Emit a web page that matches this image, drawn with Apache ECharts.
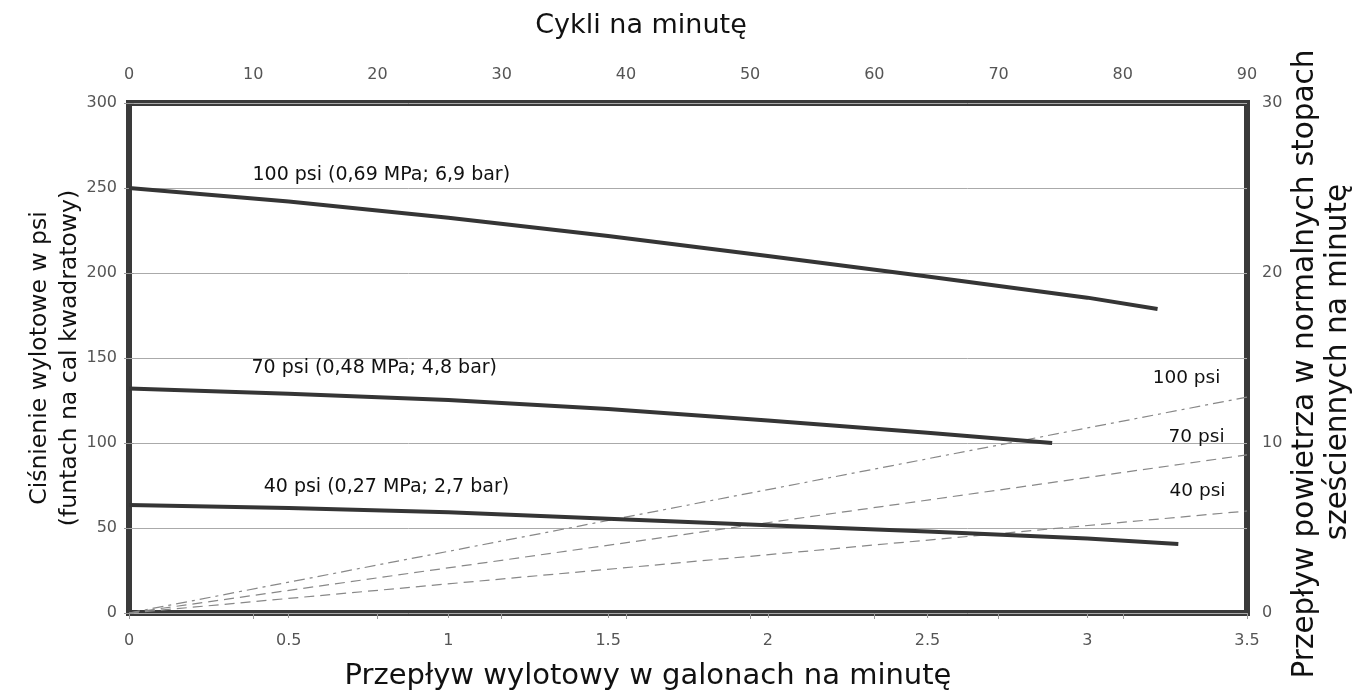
<!DOCTYPE html>
<html>
<head>
<meta charset="utf-8">
<script src="https://cdn.jsdelivr.net/npm/echarts@6/dist/echarts.min.js"></script>
<style>
html,body{margin:0;padding:0;background:#fff;}
#chart{width:1371px;height:698px;}
</style>
</head>
<body>
<div id="chart"></div>
<script>
// ---- data ----
const flow100 = [0, 0.5, 1, 1.5, 2, 2.5, 3, 3.22];
const pressure100 = [250, 242, 232.5, 221.8, 210, 198, 185.5, 178.8];
const flow70 = [0, 0.5, 1, 1.5, 2, 2.5, 2.89];
const pressure70 = [132, 129, 125.3, 120, 113.3, 106, 100];
const flow40 = [0, 0.5, 1, 1.5, 2, 2.5, 3, 3.285];
const pressure40 = [63.5, 61.7, 59.2, 55.4, 51.6, 47.9, 43.8, 40.6];
const airFlowX = [0, 3.5];
const air100 = [0, 12.7];
const air70 = [0, 9.3];
const air40 = [0, 6.0];
const curveNames = ['100 psi (0,69 MPa; 6,9 bar)', '70 psi (0,48 MPa; 4,8 bar)', '40 psi (0,27 MPa; 2,7 bar)'];
const airNames = ['100 psi', '70 psi', '40 psi'];
// label anchor points (data coordinates)
const curveLabelAt = [[0.385, 257.6], [0.382, 144], [0.42, 74.1]];
const airLabelAt = [[3.203, 13.82], [3.253, 10.35], [3.256, 7.18]];

const pairs = (xs, ys) => xs.map((x, i) => [x, ys[i]]);
const FONT = 'DejaVu Sans';

function solid(name, xs, ys, lab) {
  return {
    type: 'line', name, xAxisIndex: 0, yAxisIndex: 0,
    data: pairs(xs, ys), showSymbol: false, symbol: 'none', smooth: false,
    lineStyle: { color: '#353535', width: 4, join: 'round' }, z: 5,
    markPoint: {
      symbol: 'circle', symbolSize: 1, itemStyle: { color: 'rgba(0,0,0,0)' },
      label: { show: true, position: 'right', distance: 0, formatter: name,
        color: '#111', fontFamily: FONT, fontSize: 19 },
      data: [{ coord: lab }]
    }
  };
}
function dashed(name, xs, ys, dash, lab) {
  return {
    type: 'line', name, xAxisIndex: 0, yAxisIndex: 1,
    data: pairs(xs, ys), showSymbol: false, symbol: 'none',
    lineStyle: { color: '#888', width: 1.2, type: dash }, z: 4,
    markPoint: {
      symbol: 'circle', symbolSize: 1, itemStyle: { color: 'rgba(0,0,0,0)' },
      label: { show: true, position: 'right', distance: 0, formatter: name,
        color: '#111', fontFamily: FONT, fontSize: 18.5 },
      data: [{ coord: lab }]
    }
  };
}

const tickLabel = { color: '#555', fontFamily: FONT, fontSize: 16 };
const chart = echarts.init(document.getElementById('chart'), null, { renderer: 'canvas' });
chart.setOption({
  animation: false,
  backgroundColor: '#fff',
  grid: { left: 129, right: 124, top: 103, bottom: 85, show: true,
    borderColor: '#3a3a3a', borderWidth: 6, backgroundColor: 'transparent', containLabel: false },
  xAxis: [
    { type: 'value', position: 'bottom', min: 0, max: 3.5, interval: 0.5,
      axisLine: { show: false }, splitLine: { show: false },
      axisTick: { show: true, length: 5, lineStyle: { color: '#999' } },
      axisLabel: Object.assign({ margin: 20 }, tickLabel) },
    { type: 'value', position: 'top', min: 0, max: 90, interval: 10,
      axisLine: { show: false }, splitLine: { show: false },
      axisTick: { show: true, inside: true, length: 6, lineStyle: { color: '#999' } },
      axisLabel: Object.assign({ margin: 20 }, tickLabel) }
  ],
  yAxis: [
    { type: 'value', position: 'left', min: 0, max: 300, interval: 50,
      axisLine: { show: false },
      splitLine: { show: true, lineStyle: { color: '#aaa', width: 1 } },
      axisTick: { show: true, length: 5, lineStyle: { color: '#999' } },
      axisLabel: Object.assign({ margin: 12 }, tickLabel) },
    { type: 'value', position: 'right', min: 0, max: 30, interval: 10,
      axisLine: { show: false }, splitLine: { show: false },
      axisTick: { show: true, length: 5, lineStyle: { color: '#999' } },
      axisLabel: Object.assign({ margin: 15 }, tickLabel) }
  ],
  series: [
    solid(curveNames[0], flow100, pressure100, curveLabelAt[0]),
    solid(curveNames[1], flow70, pressure70, curveLabelAt[1]),
    solid(curveNames[2], flow40, pressure40, curveLabelAt[2]),
    dashed(airNames[0], airFlowX, air100, [11, 5, 3, 5], airLabelAt[0]),
    dashed(airNames[1], airFlowX, air70, [10, 6], airLabelAt[1]),
    dashed(airNames[2], airFlowX, air40, [10, 6], airLabelAt[2])
  ],
  graphic: [
    { type: 'text', x: 641, y: 26, style: { text: 'Cykli na minutę', fill: '#111',
      font: '27px "DejaVu Sans"', textAlign: 'center', textVerticalAlign: 'middle' } },
    { type: 'text', x: 648, y: 676, style: { text: 'Przepływ wylotowy w galonach na minutę', fill: '#111',
      font: '29px "DejaVu Sans"', textAlign: 'center', textVerticalAlign: 'middle' } },
    { type: 'text', x: 40, y: 358, rotation: Math.PI / 2, style: { text: 'Ciśnienie wylotowe w psi', fill: '#111',
      font: '23.5px "DejaVu Sans"', textAlign: 'center', textVerticalAlign: 'middle' } },
    { type: 'text', x: 70, y: 358, rotation: Math.PI / 2, style: { text: '(funtach na cal kwadratowy)', fill: '#111',
      font: '23.5px "DejaVu Sans"', textAlign: 'center', textVerticalAlign: 'middle' } },
    { type: 'text', x: 1305, y: 364, rotation: Math.PI / 2, style: { text: 'Przepływ powietrza w normalnych stopach', fill: '#111',
      font: '29.5px "DejaVu Sans"', textAlign: 'center', textVerticalAlign: 'middle' } },
    { type: 'text', x: 1338, y: 362, rotation: Math.PI / 2, style: { text: 'sześciennych na minutę', fill: '#111',
      font: '29.5px "DejaVu Sans"', textAlign: 'center', textVerticalAlign: 'middle' } }
  ]
});
</script>
</body>
</html>
